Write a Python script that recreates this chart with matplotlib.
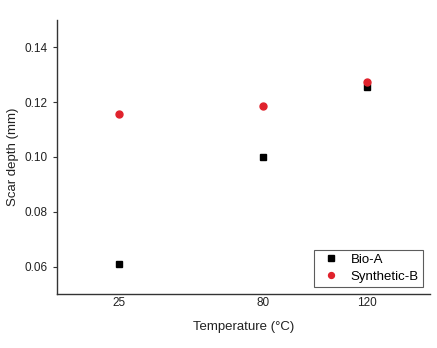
import matplotlib
matplotlib.use('Agg')
import matplotlib.pyplot as plt

plt.rcParams['font.family'] = ['Liberation Sans', 'DejaVu Sans']

# data
temps = [25, 80, 120]
bio_a = [0.0608, 0.100, 0.1256]
synth_b = [0.1155, 0.1185, 0.1272]
yticks = [0.06, 0.08, 0.10, 0.12, 0.14]

fig = plt.figure(figsize=(4.37, 3.48), dpi=100)
ax = fig.add_axes([0.130, 0.155, 0.854, 0.788])

ax.plot(temps, bio_a, 's', color='black', markersize=4.5, label='Bio-A', zorder=3)
ax.plot(temps, synth_b, 'o', color='#e0222c', markersize=5, label='Synthetic-B', zorder=3)

ax.set_xlim(1, 144)
ax.set_ylim(0.05, 0.15)
ax.set_xticks(temps)
ax.set_xticklabels([str(t) for t in temps])
ax.set_yticks(yticks)
ax.set_yticklabels(['%.2f' % v for v in yticks])

for s in ['top', 'right']:
    ax.spines[s].set_visible(False)
for s in ['left', 'bottom']:
    ax.spines[s].set_linewidth(1.0)
    ax.spines[s].set_color('#333333')

ax.tick_params(axis='y', direction='out', length=3, width=0.8, labelsize=8.5, colors='#333333', labelcolor='#222222')
ax.tick_params(axis='x', length=0, labelsize=8.5, labelcolor='#222222', pad=2)

ax.set_xlabel('Temperature (°C)', fontsize=9.5, labelpad=9, color='#222222')
ax.set_ylabel('Scar depth (mm)', fontsize=9.5, labelpad=4, color='#222222')

leg = ax.legend(loc='lower right', fontsize=9.5, frameon=True, fancybox=False,
                handletextpad=0.45, borderpad=0.3, labelspacing=0.35,
                handlelength=2.0, markerscale=0.85, borderaxespad=0,
                bbox_to_anchor=(0.98, 0.026))
leg.get_frame().set_edgecolor('#333333')
leg.get_frame().set_linewidth(0.8)

fig.savefig('out.png', dpi=100)
